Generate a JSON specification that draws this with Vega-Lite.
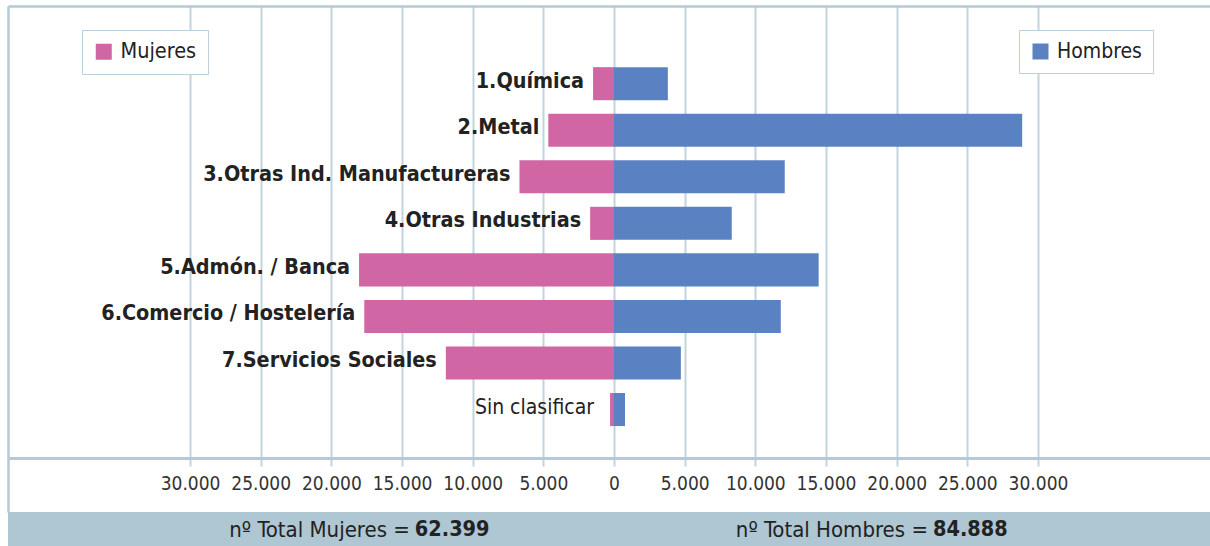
{
  "$schema": "https://vega.github.io/schema/vega-lite/v6.json",
  "padding": {"left": 8, "top": 6, "right": 0, "bottom": 0},
  "spacing": 0,
  "bounds": "flush",
  "config": {
    "locale": {"number": {"decimal": ",", "thousands": ".", "grouping": [3], "currency": ["", " €"]}},
    "font": "DejaVu Sans Condensed",
    "view": {"stroke": null},
    "axis": {"minExtent": 0}
  },
  "vconcat": [
    {
      "width": 1202,
      "height": 452,
      "data": {"values": [
        {"cat": "1.Química", "mujeres": -1480, "hombres": 3810},
        {"cat": "2.Metal", "mujeres": -4650, "hombres": 28880},
        {"cat": "3.Otras Ind. Manufactureras", "mujeres": -6690, "hombres": 12080},
        {"cat": "4.Otras Industrias", "mujeres": -1690, "hombres": 8330},
        {"cat": "5.Admón. / Banca", "mujeres": -18040, "hombres": 14480},
        {"cat": "6.Comercio / Hostelería", "mujeres": -17670, "hombres": 11800},
        {"cat": "7.Servicios Sociales", "mujeres": -11900, "hombres": 4730},
        {"cat": "Sin clasificar", "mujeres": -280, "hombres": 778}
      ]},
      "encoding": {
        "y": {
          "field": "cat", "type": "nominal", "sort": null,
          "scale": {"paddingInner": 0.29, "paddingOuter": 1.058, "align": 0.657},
          "axis": {"orient": "left", "domain": true, "domainColor": "#B5CAD6", "domainWidth": 2.5, "ticks": false, "labels": false, "grid": false, "title": null, "minExtent": 0}
        }
      },
      "layer": [
        {
          "mark": {"type": "bar"},
          "encoding": {
            "x": {
              "field": "mujeres", "type": "quantitative",
              "scale": {"domain": [-42880, 42170], "nice": false, "zero": false},
              "axis": {
                "orient": "bottom", "title": null,
                "values": [-30000, -25000, -20000, -15000, -10000, -5000, 0, 5000, 10000, 15000, 20000, 25000, 30000],
                "labelExpr": "format(abs(datum.value), ',')",
                "grid": true, "gridColor": "#C2D3DD", "gridWidth": 2,
                "ticks": true, "tickSize": 8, "tickColor": "#C2D3DD", "tickWidth": 2,
                "domain": true, "domainColor": "#B5CAD6", "domainWidth": 3,
                "labelFontSize": 19, "labelColor": "#333333", "labelPadding": 8,
                "labelFont": "DejaVu Sans Condensed"
              }
            },
            "color": {
              "datum": "Mujeres",
              "scale": {"range": ["#D066A4"]},
              "legend": {
                "orient": "none", "legendX": 74, "legendY": 24, "title": null,
                "fillColor": "#FFFFFF", "strokeColor": "#BDD0DB", "padding": 11,
                "symbolType": "square", "symbolSize": 256, "symbolStrokeWidth": 0,
                "labelFontSize": 21.5, "labelColor": "#222222", "labelOffset": 6,
                "labelFont": "DejaVu Sans Condensed"
              }
            }
          }
        },
        {
          "mark": {"type": "bar"},
          "encoding": {
            "x": {
              "field": "hombres", "type": "quantitative",
              "axis": {"orient": "top", "title": null, "grid": false, "ticks": false, "labels": false, "domain": true, "domainColor": "#B5CAD6", "domainWidth": 2.5, "minExtent": 0}
            },
            "color": {
              "datum": "Hombres",
              "scale": {"range": ["#5A82C2"]},
              "legend": {
                "orient": "none", "legendX": 1011, "legendY": 24, "title": null,
                "fillColor": "#FFFFFF", "strokeColor": "#BDD0DB", "padding": 11,
                "symbolType": "square", "symbolSize": 256, "symbolStrokeWidth": 0,
                "labelFontSize": 21, "labelColor": "#222222", "labelOffset": 6,
                "labelFont": "DejaVu Sans Condensed"
              }
            }
          }
        },
        {
          "transform": [{"filter": "datum.cat != 'Sin clasificar'"}],
          "mark": {"type": "text", "align": "right", "baseline": "middle", "dx": -9, "dy": -2, "fontWeight": "bold", "fontSize": 21.4, "color": "#222222"},
          "encoding": {
            "x": {"field": "mujeres", "type": "quantitative", "axis": null},
            "text": {"field": "cat"}
          }
        },
        {
          "transform": [{"filter": "datum.cat == 'Sin clasificar'"}],
          "mark": {"type": "text", "align": "right", "baseline": "middle", "dx": -16, "dy": -2, "fontSize": 21, "color": "#222222"},
          "encoding": {
            "x": {"field": "mujeres", "type": "quantitative", "axis": null},
            "text": {"field": "cat"}
          }
        }
      ],
      "resolve": {"scale": {"color": "independent"}, "axis": {"x": "independent"}}
    },
    {
      "width": 1202,
      "height": 54,
      "data": {"values": [{"v": 0}]},
      "mark": {"type": "text"},
      "encoding": {
        "y": {"field": "v", "type": "quantitative", "axis": {"orient": "left", "domain": true, "domainColor": "#B5CAD6", "domainWidth": 2.5, "ticks": false, "labels": false, "grid": false, "title": null, "minExtent": 0}},
        "text": {"value": ""}
      }
    },
    {
      "width": 1202,
      "height": 35,
      "view": {"fill": "#AFC6D3", "stroke": null},
      "data": {"values": [
        {"sexo": "Mujeres", "texto": "nº Total Mujeres =", "total": 62399},
        {"sexo": "Hombres", "texto": "nº Total Hombres =", "total": 84888}
      ]},
      "encoding": {
        "x": {"field": "sexo", "type": "nominal", "sort": null, "axis": null, "scale": {"type": "point", "padding": 0.66, "align": 0.592}}
      },
      "layer": [
        {
          "mark": {"type": "text", "align": "right", "baseline": "middle", "dx": -3, "dy": 0, "fontSize": 22, "color": "#222222"},
          "encoding": {"text": {"field": "texto"}}
        },
        {
          "mark": {"type": "text", "align": "left", "baseline": "middle", "dx": 2, "dy": 0, "fontSize": 21.5, "fontWeight": "bold", "color": "#222222"},
          "encoding": {"text": {"field": "total", "format": ",d"}}
        }
      ]
    }
  ]
}
